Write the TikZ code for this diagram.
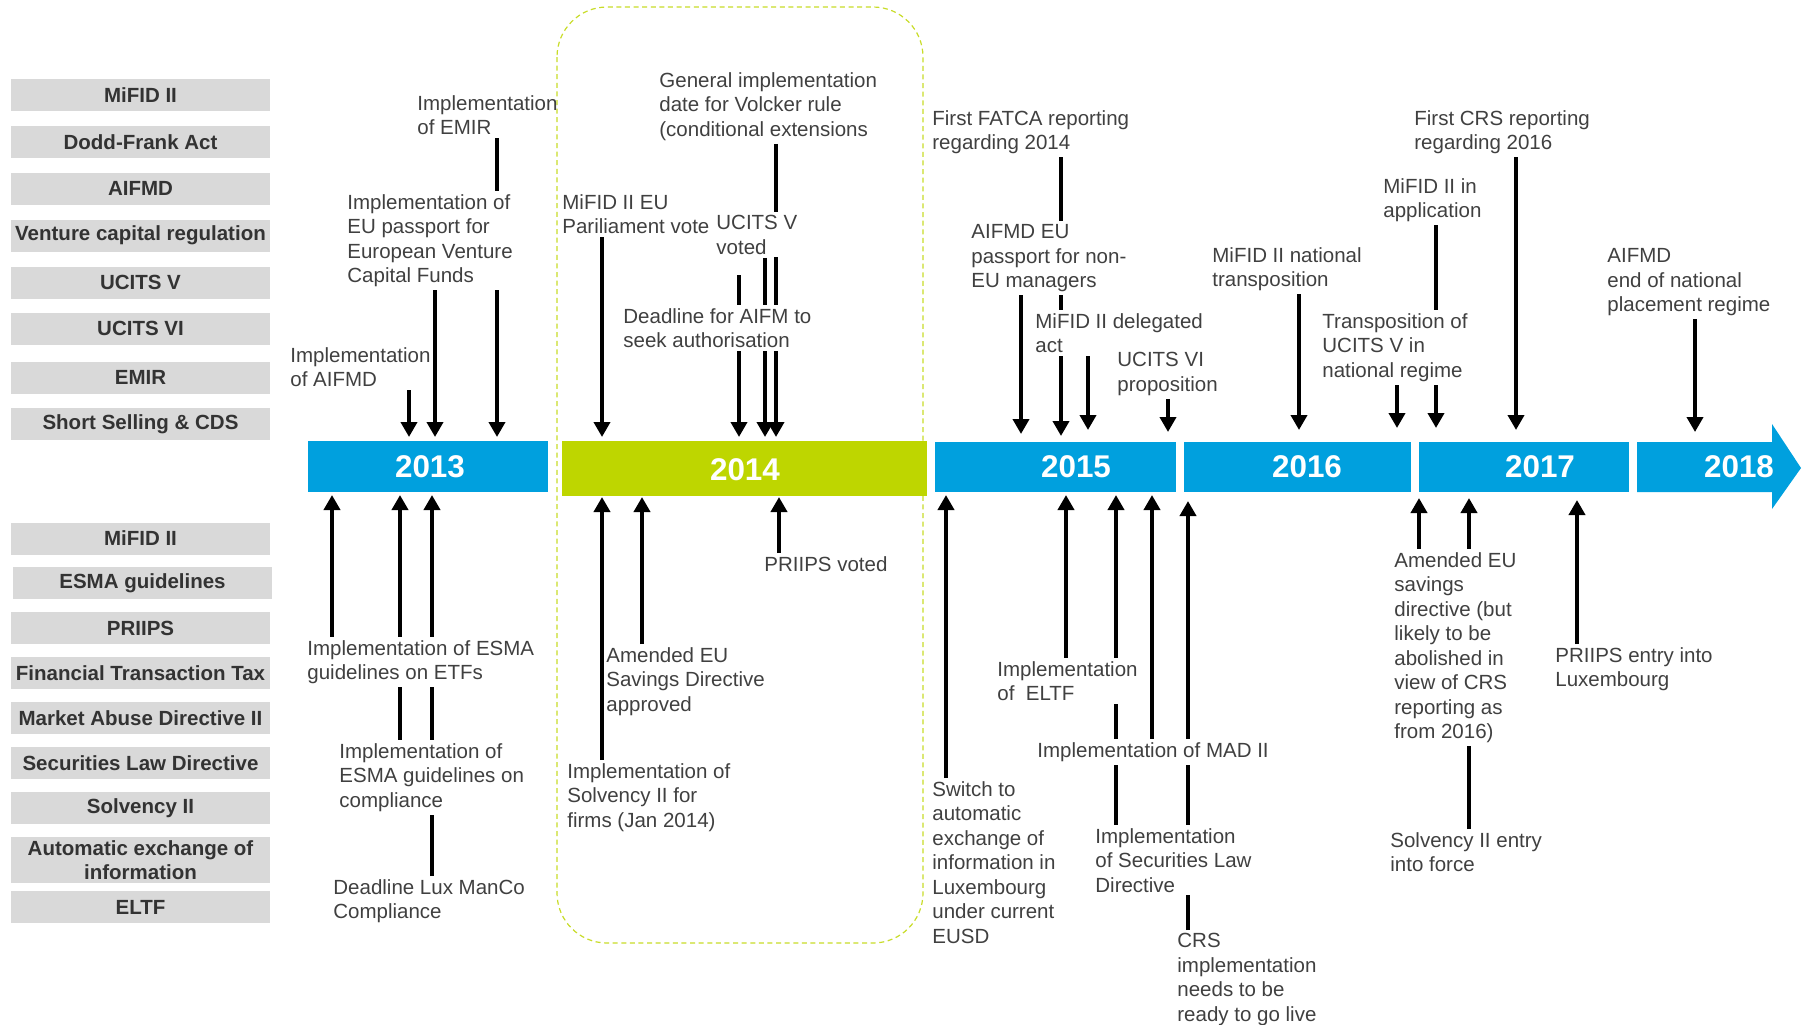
\documentclass[tikz,border=0pt]{standalone}
\usepackage{fontspec}
\setmainfont{Liberation Sans}
\usetikzlibrary{arrows.meta,backgrounds}
\definecolor{tlblue}{RGB}{0,160,222}
\definecolor{tlgreen}{RGB}{190,214,0}
\definecolor{boxgray}{RGB}{217,217,217}
\definecolor{cattxt}{RGB}{51,51,51}
\definecolor{txtgray}{RGB}{64,64,64}
\definecolor{dashgreen}{RGB}{200,220,40}
\newcommand{\evtfont}{\fontsize{10.25}{12.25}\selectfont}
\newcommand{\catfont}{\fontsize{10.25}{12}\selectfont\bfseries}
\newcommand{\yrfont}{\fontsize{15.7}{18}\selectfont\bfseries}

\begin{document}
\begin{tikzpicture}[x=0.5pt,y=-0.5pt,
  evt/.style={anchor=north west, align=left, font=\evtfont, text=txtgray, inner xsep=0.5pt, inner ysep=1.5pt},
  mask/.style={fill=white},
  cat/.style={fill=boxgray, minimum width=129.5pt, minimum height=16pt, inner sep=0pt, font=\catfont, text=cattxt, align=center},
  yr/.style={font=\yrfont, text=white},
  arr/.style={line width=2pt, -{Triangle[width=8pt,length=7.5pt]}}]
\useasboundingbox (0,0) rectangle (1804,1024);

% topics
\node[cat] (catMifid) at (140.5,95) {MiFID II};
\node[cat] (catDodd) at (140.5,142) {Dodd-Frank Act};
\node[cat] (catAifmd) at (140.5,188.5) {AIFMD};
\node[cat] (catVcr) at (140.5,235.5) {Venture capital regulation};
\node[cat] (catUcitsV) at (140.5,282.5) {UCITS V};
\node[cat] (catUcitsVI) at (140.5,328.5) {UCITS VI};
\node[cat] (catEmir) at (140.5,377.5) {EMIR};
\node[cat] (catSsr) at (140.5,424) {Short Selling \& CDS};
\node[cat] (catMifidB) at (140.5,538.5) {MiFID II};
\node[cat] (catEsma) at (142.5,583) {ESMA guidelines};
\node[cat] (catPriips) at (140.5,628) {PRIIPS};
\node[cat] (catFtt) at (140.5,673) {Financial Transaction Tax};
\node[cat] (catMad) at (140.5,718) {Market Abuse Directive II};
\node[cat] (catSld) at (140.5,763) {Securities Law Directive};
\node[cat] (catSolv) at (140.5,808) {Solvency II};
\node[cat, minimum height=23pt] (catAeoi) at (140.5,860) {Automatic exchange of\\information};
\node[cat] (catEltf) at (140.5,907) {ELTF};

% events above the line
\node[evt] (aifmdImpl) at (289,344) {Implementation\\of AIFMD};
\node[evt, mask] (passport) at (346,191) {Implementation of\\EU passport for\\European Venture\\Capital Funds};
\node[evt] (emirImpl) at (416,92) {Implementation\\of EMIR};
\node[evt] (mifidVote) at (561,191) {MiFID II EU\\Pariliament vote};
\node[evt] (volcker) at (658,69) {General implementation\\date for Volcker rule\\(conditional extensions};
\node[evt, mask] (ucitsVoted) at (715,212) {UCITS V\\voted};
\node[evt, mask] (deadline) at (622,305) {Deadline for AIFM to\\seek authorisation};
\node[evt] (fatca) at (931,107) {First FATCA reporting\\regarding 2014};
\node[evt, mask] (aifmdPass) at (970,221) {AIFMD EU\\passport for non-\\EU managers};
\node[evt, mask] (mifidDel) at (1034,310) {MiFID II delegated\\act};
\node[evt] (ucitsVI) at (1116,349) {UCITS VI\\proposition};
\node[evt] (mifidNat) at (1211,244) {MiFID II national\\transposition};
\node[evt, mask] (transUcits) at (1321,310) {Transposition of\\UCITS V in\\national regime};
\node[evt] (mifidApp) at (1382,175) {MiFID II in\\application};
\node[evt] (crsFirst) at (1413,107) {First CRS reporting\\regarding 2016};
\node[evt] (aifmdEnd) at (1606,245) {AIFMD\\end of national\\placement regime};

% events below the line
\node[evt, mask] (etfs) at (306,637) {Implementation of ESMA\\guidelines on ETFs};
\node[evt, mask] (compliance) at (338,740) {Implementation of\\ESMA guidelines on\\compliance};
\node[evt] (manco) at (332,876) {Deadline Lux ManCo\\Compliance};
\node[evt] (solvFirms) at (566,760) {Implementation of\\Solvency II for\\firms (Jan 2014)};
\node[evt] (euSavings) at (605,644) {Amended EU\\Savings Directive\\approved};
\node[evt] (priipsVoted) at (763,553) {PRIIPS voted};
\node[evt] (switchAuto) at (931,778) {Switch to\\automatic\\exchange of\\information in\\Luxembourg\\under current\\EUSD};
\node[evt, mask] (eltfImpl) at (996,658) {Implementation\\of\ \ ELTF};
\node[evt, mask] (madImpl) at (1036,739) {Implementation of MAD II};
\node[evt, mask] (sldImpl) at (1094,825) {Implementation\\of Securities Law\\Directive};
\node[evt] (crsLive) at (1176,930) {CRS\\implementation\\needs to be\\ready to go live};
\node[evt, mask] (amendedEU) at (1393,549) {Amended EU\\savings\\directive (but\\likely to be\\abolished in\\view of CRS\\reporting as\\from 2016)};
\node[evt] (solvEntry) at (1389,829) {Solvency II entry\\into force};
\node[evt] (priipsLux) at (1554,644) {PRIIPS entry into\\Luxembourg};

% arrow tips on the time line
\coordinate (tAifmd) at (409,437);
\coordinate (tPass) at (435,437);
\coordinate (tEmir) at (497,437);
\coordinate (tVote) at (602,437);
\coordinate (tDead) at (739,437);
\coordinate (sDead) at (739,275);
\coordinate (tUcits) at (765,437);
\coordinate (tVolck) at (776,437);
\coordinate (tAifmdPass) at (1021,434);
\coordinate (tFatca) at (1061,436);
\coordinate (tDel) at (1088,430);
\coordinate (tUcitsVI) at (1168,432);
\coordinate (tNat) at (1299,430);
\coordinate (tTrans) at (1397,428);
\coordinate (tApp) at (1436,428);
\coordinate (tCrs) at (1516,430);
\coordinate (tEnd) at (1695,432);
\coordinate (bEtfs) at (332,495);
\coordinate (bComp) at (400,495);
\coordinate (bManco) at (432,495);
\coordinate (bSolv) at (602,497);
\coordinate (bSav) at (642,497);
\coordinate (bPriips) at (779,497);
\coordinate (bSwitch) at (946,495);
\coordinate (bEltf) at (1066,495);
\coordinate (bSld) at (1116,495);
\coordinate (bMad) at (1152,495);
\coordinate (bCrs) at (1188,501);
\coordinate (bAmend) at (1419,498);
\coordinate (bSolvE) at (1469,498);
\coordinate (bPriipsL) at (1577,500);

\begin{scope}[on background layer]
\draw[dashgreen, line width=0.6pt, dash pattern=on 2.5pt off 1.8pt, rounded corners=25pt] (557,7) rectangle (923,943);
\draw[arr] (aifmdImpl.south -| tAifmd) -- (tAifmd);
\draw[arr] (passport.south -| tPass) -- (tPass);
\draw[arr] (emirImpl.south -| tEmir) -- (tEmir);
\draw[arr] (mifidVote.south -| tVote) -- (tVote);
\draw[arr] (sDead) -- (tDead);
\draw[arr] (ucitsVoted.south -| tUcits) -- (tUcits);
\draw[arr] (volcker.south -| tVolck) -- (tVolck);
\draw[arr] (aifmdPass.south -| tAifmdPass) -- (tAifmdPass);
\draw[arr] (fatca.south -| tFatca) -- (tFatca);
\draw[arr] (mifidDel.south -| tDel) -- (tDel);
\draw[arr] (ucitsVI.south -| tUcitsVI) -- (tUcitsVI);
\draw[arr] (mifidNat.south -| tNat) -- (tNat);
\draw[arr] (transUcits.south -| tTrans) -- (tTrans);
\draw[arr] (mifidApp.south -| tApp) -- (tApp);
\draw[arr] (crsFirst.south -| tCrs) -- (tCrs);
\draw[arr] (aifmdEnd.south -| tEnd) -- (tEnd);
\draw[arr] (etfs.north -| bEtfs) -- (bEtfs);
\draw[arr] (compliance.north -| bComp) -- (bComp);
\draw[arr] (manco.north -| bManco) -- (bManco);
\draw[arr] (solvFirms.north -| bSolv) -- (bSolv);
\draw[arr] (euSavings.north -| bSav) -- (bSav);
\draw[arr] (priipsVoted.north -| bPriips) -- (bPriips);
\draw[arr] (switchAuto.north -| bSwitch) -- (bSwitch);
\draw[arr] (eltfImpl.north -| bEltf) -- (bEltf);
\draw[arr] (sldImpl.north -| bSld) -- (bSld);
\draw[arr] (madImpl.north -| bMad) -- (bMad);
\draw[arr] (crsLive.north -| bCrs) -- (bCrs);
\draw[arr] (amendedEU.north -| bAmend) -- (bAmend);
\draw[arr] (solvEntry.north -| bSolvE) -- (bSolvE);
\draw[arr] (priipsLux.north -| bPriipsL) -- (bPriipsL);
\end{scope}

% time line
\fill[tlblue] (308,441) rectangle (548,492);
\fill[tlgreen] (562,441) rectangle (927,496);
\fill[tlblue] (935,442) rectangle (1176,492);
\fill[tlblue] (1184,442) rectangle (1411,492);
\fill[tlblue] (1419,442) rectangle (1629,492);
\fill[tlblue] (1637,442) -- (1772,442) -- (1772,424) -- (1801,468) -- (1772,509) -- (1772,492) -- (1637,492) -- cycle;
\node[yr] (yr13) at (430,467) {2013};
\node[yr] (yr14) at (745,470) {2014};
\node[yr] (yr15) at (1076,467) {2015};
\node[yr] (yr16) at (1307,467) {2016};
\node[yr] (yr17) at (1540,467) {2017};
\node[yr] (yr18) at (1739,467) {2018};
\end{tikzpicture}
\end{document}
